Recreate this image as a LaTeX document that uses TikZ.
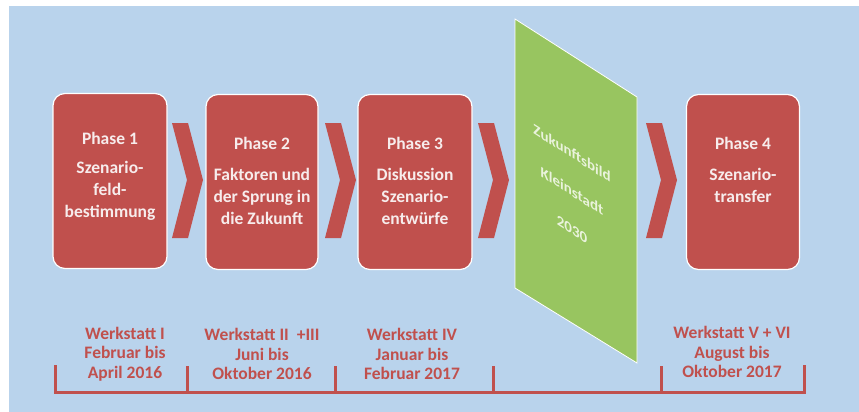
\documentclass[tikz,border=0pt]{standalone}
\usepackage{fontspec}
\setmainfont{Carlito}
\usetikzlibrary{positioning}

\definecolor{phasered}{HTML}{C0504D}
\definecolor{bgblue}{HTML}{B9D3EC}
\definecolor{futuregreen}{HTML}{98C560}
\definecolor{phasewhite}{HTML}{F7ECEC}
\definecolor{greenwhite}{HTML}{EAF3DC}

\begin{document}
\begin{tikzpicture}[x=1pt, y=-1pt,
  phasebox/.style  = {draw=white, line width=1.2pt, fill=phasered, rounded corners=12pt,
                      minimum height=175pt, inner sep=0pt},
  phasetext/.style = {text=phasewhite, font=\fontsize{17.5}{22}\selectfont\bfseries,
                      align=center, inner sep=0pt},
  werkstatt/.style = {text=phasered, font=\fontsize{17.5}{19.5}\selectfont\bfseries,
                      align=center, inner sep=0pt},
  zukunft/.style   = {text=greenwhite, font=\fontsize{15}{38}\selectfont\bfseries,
                      align=center, yslant=-0.64, inner sep=0pt}]

\useasboundingbox (0,0) rectangle (859,412);
\fill [white ] (0,0) rectangle (859,412);
\fill [bgblue] (9,6) rectangle (859,412);

% phases
\node [phasebox, minimum width=114pt] (p1) at (110,181) {};
\node [phasebox, minimum width=112pt] (p2) at (262,182) {};
\node [phasebox, minimum width=114pt] (p3) at (415,182) {};
\node [phasebox, minimum width=113pt] (p4) at (743,182) {};

\node [phasetext, below=39pt of p1.north] (t1) {Phase 1\\[7pt]Szenario-\\feld-\\bestimmung};
\node [phasetext, below=43pt of p2.north] (t2) {Phase 2\\[9pt]Faktoren und\\der Sprung in\\die Zukunft};
\node [phasetext, below=43pt of p3.north] (t3) {Phase 3\\[9pt]Diskussion\\Szenario-\\entwürfe};
\node [phasetext, below=43pt of p4.north] (t4) {Phase 4\\[9pt]Szenario-\\transfer};

% chevrons
\foreach \x in {172, 325, 478, 646}
  \fill [phasered] (\x,123) -- ++(16,0) -- ++(15,57) -- ++(-15,58) -- ++(-16,0) -- ++(15,-58) -- cycle;

% future picture
\fill [futuregreen] (515,19) -- (637,97) -- (637,363) -- (515,288) -- cycle;
\draw [white, line width=0.8pt] (515,19) -- (637,97) -- (637,363) -- (515,288) -- cycle;
\node [zukunft] (z) at (572,191) {Zukunftsbild\\Kleinstadt\\2030};

% workshops
\node [werkstatt] (w1) at (125,354) {Werkstatt I\\Februar bis\\April 2016};
\node [werkstatt] (w2) at (262,354) {Werkstatt II\ \ +III\\Juni bis\\Oktober 2016};
\node [werkstatt] (w3) at (412,354) {Werkstatt IV\\Januar bis\\Februar 2017};
\node [werkstatt] (w4) at (732,352) {Werkstatt V + VI\\August bis\\Oktober 2017};

% time line
\draw [phasered, line width=3pt] (55,365) -- (55,392) -- (804,392) -- (804,365);
\foreach \x in {187, 335, 493, 661}
  \draw [phasered, line width=3pt] (\x,366) -- (\x,392);

\end{tikzpicture}
\end{document}
